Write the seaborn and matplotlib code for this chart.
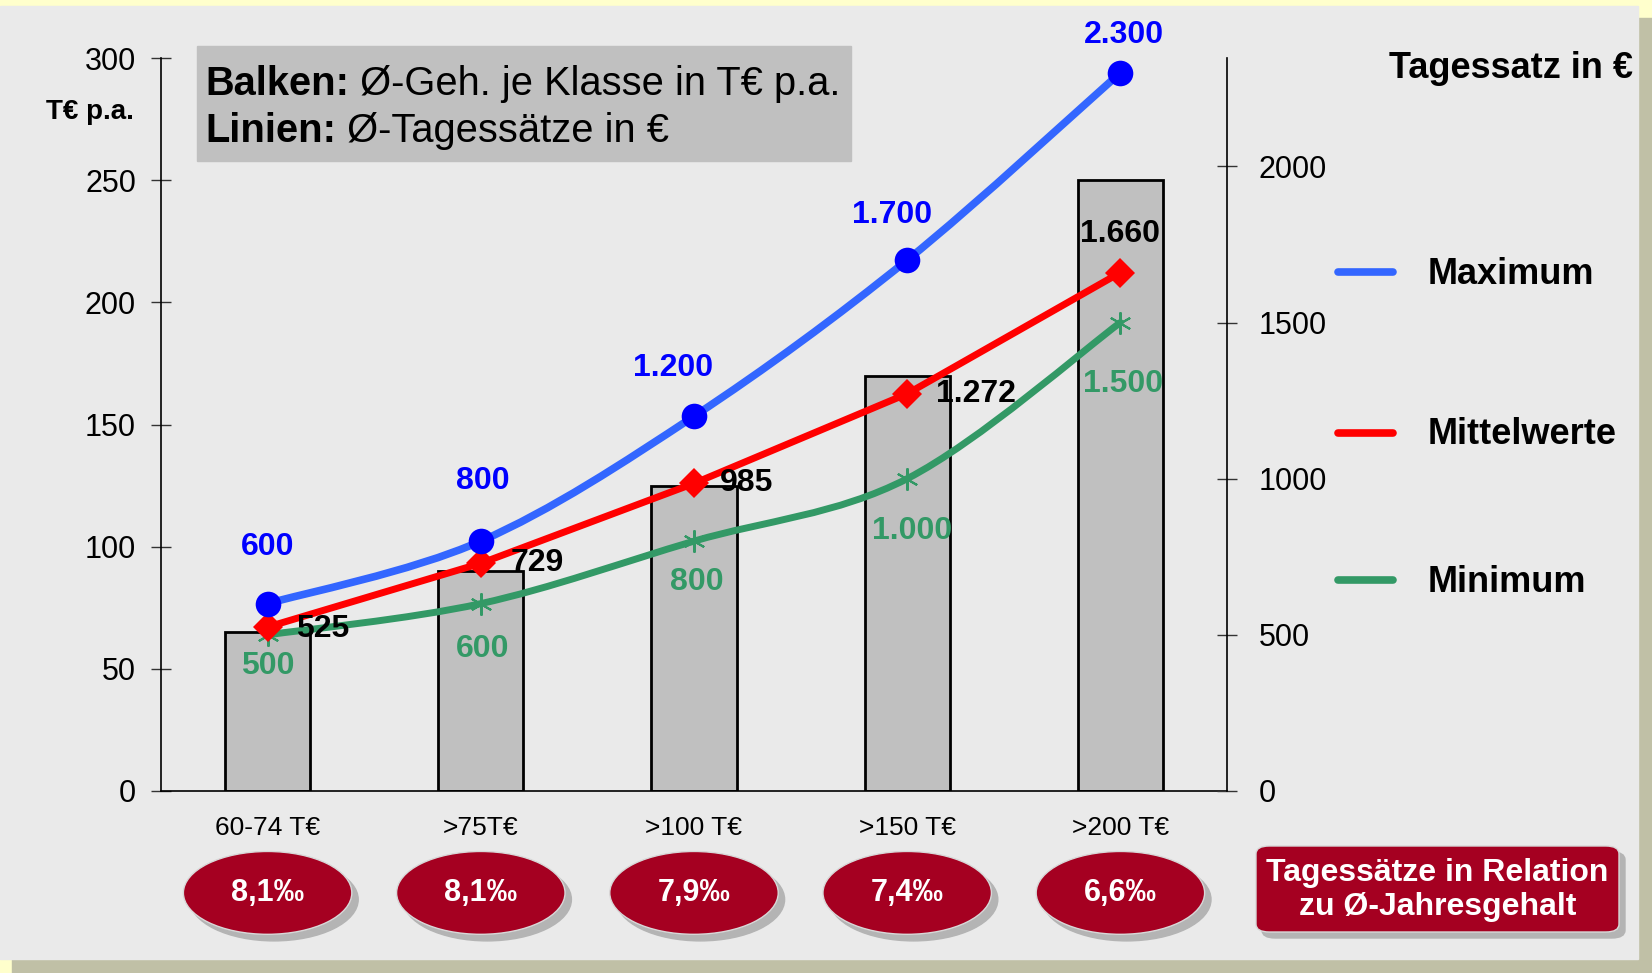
import numpy as np
import pandas as pd
import matplotlib
matplotlib.use("Agg")
import matplotlib.pyplot as plt
import seaborn as sns
from matplotlib.path import Path
from matplotlib.patches import PathPatch, Ellipse, Rectangle, FancyBboxPatch
from matplotlib.lines import Line2D
from matplotlib.text import Annotation
from matplotlib.transforms import blended_transform_factory

# --- Daten ---
klassen = ["60-74 T€", ">75T€", ">100 T€", ">150 T€", ">200 T€"]
gehalt = [65, 90, 125, 170, 250]            # Balken, T€ p.a.
tages_max = [600, 800, 1200, 1700, 2300]     # Tagessatz Maximum
tages_mittel = [525, 729, 985, 1272, 1660]   # Tagessatz Mittelwerte
tages_min = [500, 600, 800, 1000, 1500]      # Tagessatz Minimum
relation = ["8,1‰", "8,1‰", "7,9‰", "7,4‰", "6,6‰"]

# Label-Versatz in Pixel (nur Layout)
off_max = [(0, 57), (2, 60), (-21, 48), (-15, 45), (4, 38)]
off_mittel = [(28, -2), (30, 0), (26, 0), (29, 0), (0, 39)]
off_min = [(0, -31), (2, -45), (3, -41), (5, -52), (3, -61)]

BLAU_LINIE = "#3366FF"
BLAU = "#0000FF"
ROT = "#FF0000"
GRUEN = "#339966"
DUNKELROT = "#A50021"


def de_format(v):
    return f"{v:,}".replace(",", ".")


def smooth_path(xs, ys):
    # Bezier-Glaettung wie in Excel (Catmull-Rom)
    pts = np.column_stack([xs, ys]).astype(float)
    n = len(pts)
    verts = [pts[0]]
    codes = [Path.MOVETO]
    for i in range(n - 1):
        p0 = pts[max(i - 1, 0)]
        p1 = pts[i]
        p2 = pts[i + 1]
        p3 = pts[min(i + 2, n - 1)]
        verts += [p1 + (p2 - p0) / 6, p2 - (p3 - p1) / 6, p2]
        codes += [Path.CURVE4] * 3
    return Path(verts, codes)


sns.set_theme(style="white")
plt.rcParams["font.family"] = ["Liberation Sans", "DejaVu Sans"]
plt.rcParams["text.color"] = "black"
plt.rcParams["xtick.color"] = "black"
plt.rcParams["ytick.color"] = "black"
plt.rcParams["axes.labelcolor"] = "black"

fig = plt.figure(figsize=(16.52, 9.73), dpi=100, facecolor="#FFFFCC")

# Hintergrund-Panel mit Schatten
fig.patches.append(Rectangle((12 / 1652, 0), 1 - 12 / 1652, 1 - 18 / 973,
                             transform=fig.transFigure, color="#C0C0A6", zorder=-2))
fig.patches.append(Rectangle((0, 1 - 959 / 973), 1638 / 1652, 953 / 973,
                             transform=fig.transFigure, color="#EAEAEA", zorder=-1))

ax = fig.add_axes([161 / 1652, 1 - 791 / 973, (1227 - 161) / 1652, (791 - 58) / 973])
ax.set_facecolor("none")

df = pd.DataFrame({"klasse": klassen, "gehalt": gehalt})
sns.barplot(data=df, x="klasse", y="gehalt", color="#C0C0C0", saturation=1,
            edgecolor="black", linewidth=2, width=0.4, ax=ax)

ax.set_xlim(-0.5, 4.5)
ax.set_ylim(0, 300)
ax.set_yticks(range(0, 301, 50))
ax.set_xlabel("")
ax.set_ylabel("")
for s in ["top", "right"]:
    ax.spines[s].set_visible(False)
for s in ["left", "bottom"]:
    ax.spines[s].set_color("black")
    ax.spines[s].set_linewidth(1.2)
ax.tick_params(axis="y", which="major", direction="inout", length=14, width=1,
               color="#333333", labelcolor="black", labelsize=22, pad=11)
ax.tick_params(axis="x", which="major", length=0, labelsize=19, pad=18,
               labelcolor="black")
ax.set_xticks(np.arange(-0.5, 5, 1), minor=True)
ax.tick_params(axis="x", which="minor", direction="inout", length=14, width=1,
               color="#333333")

# Sekundaerachse fuer Tagessaetze
ax2 = ax.twinx()
ax2.set_ylim(0, 2347)
ax2.set_yticks(range(0, 2001, 500))
for s in ["top", "left", "bottom"]:
    ax2.spines[s].set_visible(False)
ax2.spines["right"].set_color("black")
ax2.spines["right"].set_linewidth(1.2)
ax2.tick_params(axis="y", direction="inout", length=14, width=1, color="#333333",
                labelcolor="black", labelsize=22, pad=16)
ax2.grid(False)
ax.grid(False)

x = np.arange(len(klassen))

# Minimum (geglaettet)
ax2.add_patch(PathPatch(smooth_path(x, tages_min), fill=False, edgecolor=GRUEN,
                        lw=5, capstyle="round", joinstyle="round", zorder=3))
ax2.plot(x, tages_min, linestyle="none", marker=(6, 2, 0), ms=16, mew=1.5,
         mec=GRUEN, zorder=4)

# Maximum (geglaettet)
ax2.add_patch(PathPatch(smooth_path(x, tages_max), fill=False, edgecolor=BLAU_LINIE,
                        lw=5.5, capstyle="round", joinstyle="round", zorder=3))
sns.scatterplot(x=x, y=tages_max, color=BLAU, s=340, linewidth=0, ax=ax2,
                zorder=5, legend=False)

# Mittelwerte
sns.lineplot(x=x, y=tages_mittel, color=ROT, lw=5, marker="D", markersize=15,
             markeredgewidth=0, ax=ax2, zorder=4, legend=False)
ax2.set_xlim(-0.5, 4.5)
ax2.set_ylabel("")

# Datenbeschriftungen
for i in range(len(x)):
    ax2.annotate(de_format(tages_max[i]), (x[i], tages_max[i]), xytext=off_max[i],
                 textcoords="offset pixels", ha="center", va="center",
                 color=BLAU, fontsize=23, fontweight="bold", annotation_clip=False)
    ax2.annotate(de_format(tages_mittel[i]), (x[i], tages_mittel[i]), xytext=off_mittel[i],
                 textcoords="offset pixels", ha="left" if i < 4 else "center",
                 va="center", color="black", fontsize=23, fontweight="bold",
                 annotation_clip=False, zorder=6)
    ax2.annotate(de_format(tages_min[i]), (x[i], tages_min[i]), xytext=off_min[i],
                 textcoords="offset pixels", ha="center", va="center",
                 color=GRUEN, fontsize=23, fontweight="bold", annotation_clip=False)

# Relation-Ellipsen unter den Klassen
trans = blended_transform_factory(ax.transData, ax.transAxes)
for i, txt in enumerate(relation):
    ax.add_patch(Ellipse((x[i] + 0.03, -0.148), 0.79, 0.113, transform=trans,
                         color="#B4B4B4", clip_on=False, zorder=5))
    ax.add_patch(Ellipse((x[i], -0.139), 0.79, 0.113, transform=trans,
                         facecolor=DUNKELROT, edgecolor="#D8D8D8", lw=1,
                         clip_on=False, zorder=6))
    ax.text(x[i], -0.139, txt, transform=trans, ha="center", va="center",
            color="white", fontsize=22, fontweight="bold", zorder=7)

# Kasten rechts unten
fig.patches.append(FancyBboxPatch((1262 / 1652, 1 - 938 / 973), 363 / 1652, 86 / 973,
                                  boxstyle="round,pad=0,rounding_size=0.008",
                                  transform=fig.transFigure, color="#B4B4B4", zorder=3))
fig.patches.append(FancyBboxPatch((1256 / 1652, 1 - 932 / 973), 363 / 1652, 86 / 973,
                                  boxstyle="round,pad=0,rounding_size=0.008",
                                  transform=fig.transFigure, facecolor=DUNKELROT,
                                  edgecolor="#D8D8D8", lw=1, zorder=4))
fig.text(1437.5 / 1652, 1 - 890 / 973, "Tagessätze in Relation\nzu Ø-Jahresgehalt",
         ha="center", va="center", color="white", fontsize=23, fontweight="bold",
         linespacing=1.15, zorder=5)

# Erklaerungskasten oben links
fig.patches.append(Rectangle((197 / 1652, 1 - 161 / 973), 654 / 1652, 115 / 973,
                             transform=fig.transFigure, color="#C0C0C0", zorder=3))
for ypix, fett, rest in [(84, "Balken:", " Ø-Geh. je Klasse in T€ p.a."),
                         (131, "Linien:", " Ø-Tagessätze in €")]:
    t = fig.text(205 / 1652, 1 - ypix / 973, fett, ha="left", va="center",
                 fontsize=28.7, fontweight="bold", zorder=4)
    rest_txt = Annotation(rest, xy=(1, 0), xycoords=t, ha="left", va="bottom",
                          fontsize=28.7, color="black", zorder=4)
    fig.add_artist(rest_txt)

# Achsentitel
fig.text(90 / 1652, 1 - 112 / 973, "T€ p.a.", ha="center", va="center",
         fontsize=20, fontweight="bold")
fig.text(1633 / 1652, 1 - 68 / 973, "Tagessatz in €", ha="right", va="center",
         fontsize=26, fontweight="bold")

# Legende
for ypix, farbe, name in [(272, BLAU_LINIE, "Maximum"), (433, ROT, "Mittelwerte"),
                          (580, GRUEN, "Minimum")]:
    yf = 1 - ypix / 973
    fig.add_artist(Line2D([1338 / 1652, 1393 / 1652], [yf, yf], color=farbe, lw=5.5,
                          transform=fig.transFigure))
    fig.text(1428 / 1652, 1 - (ypix + 2) / 973, name, ha="left", va="center",
             fontsize=26, fontweight="bold")

fig.savefig("out.png", dpi=100, facecolor=fig.get_facecolor())
